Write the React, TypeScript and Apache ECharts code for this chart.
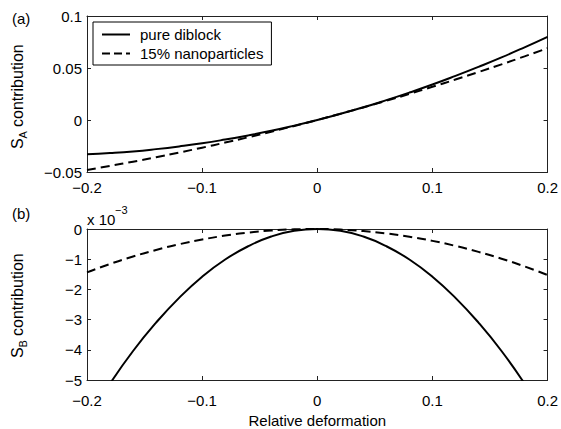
import React, { useEffect, useRef } from "react";
import * as echarts from "echarts";

const xs = [-0.2, -0.18, -0.16, -0.14, -0.12, -0.1, -0.08, -0.06, -0.04, -0.02, 0, 0.02, 0.04, 0.06, 0.08, 0.1, 0.12, 0.14, 0.16, 0.18, 0.2];

const saPure = [-0.033, -0.0318, -0.0302, -0.028, -0.0254, -0.0224, -0.0188, -0.0148, -0.0104, -0.0054, 0, 0.0059, 0.0122, 0.0191, 0.0264, 0.0341, 0.0424, 0.0511, 0.0602, 0.0699, 0.08];
const saNano = [-0.048, -0.0441, -0.0401, -0.0358, -0.0313, -0.0266, -0.0217, -0.0166, -0.0113, -0.0057, 0, 0.006, 0.0121, 0.0185, 0.0251, 0.0319, 0.0389, 0.0461, 0.0535, 0.0612, 0.069];

// in units of 1e-3
const sbPure = [-6.32, -5.12, -4.04, -3.1, -2.28, -1.58, -1.01, -0.57, -0.25, -0.06, 0, -0.06, -0.25, -0.57, -1.01, -1.58, -2.28, -3.1, -4.04, -5.12, -6.32];
const sbNano = [-1.435, -1.158, -0.911, -0.694, -0.506, -0.348, -0.219, -0.12, -0.05, -0.01, 0, -0.019, -0.068, -0.147, -0.255, -0.393, -0.56, -0.757, -0.983, -1.239, -1.525];

const seriesNames = ["pure diblock", "15% nanoparticles"];
const xTicks = { min: -0.2, max: 0.2, interval: 0.1 };
const yTopTicks = { min: -0.05, max: 0.1, interval: 0.05 };
const yBotTicks = { min: -5, max: 0, interval: 1 };

const FONT = "'Liberation Sans', Arial, Helvetica, sans-serif";
const AX = "#222";
const FS = 15;

const fmt = (v: number) => {
  if (Math.abs(v) < 1e-12) return "0";
  const s = String(Math.round(v * 1000) / 1000);
  return s.replace("-", "\u2212");
};

const zip = (ys: number[]) => xs.map((x, i) => [x, ys[i]]);

const SOLID_ICON = "path://M0,0h28v2h-28z";
const DASH_ICON = "path://M0,0h8v2h-8z M12,0h8v2h-8z M24,0h4v2h-4z";

export default function App() {
  const ref = useRef<HTMLDivElement>(null);
  useEffect(() => {
    if (!ref.current) return;
    const chart = echarts.init(ref.current, undefined, { renderer: "svg" });

    const mkX = (gridIndex: number, position: "bottom" | "top", labels: boolean, margin: number, name?: string) => ({
      type: "value" as const,
      gridIndex,
      position,
      ...xTicks,
      name: name || "",
      nameLocation: "middle" as const,
      nameGap: 33,
      nameTextStyle: { fontFamily: FONT, fontSize: FS, color: "#000" },
      axisLine: { show: true, onZero: false, lineStyle: { color: AX, width: 1 } },
      axisTick: { show: true, inside: true, length: 4, lineStyle: { color: AX } },
      axisLabel: {
        show: labels,
        margin,
        fontFamily: FONT,
        fontSize: FS,
        color: "#000",
        formatter: fmt,
      },
      splitLine: { show: false },
    });
    const mkY = (gridIndex: number, position: "left" | "right", labels: boolean, t: any) => ({
      type: "value" as const,
      gridIndex,
      position,
      ...t,
      axisLine: { show: true, onZero: false, lineStyle: { color: AX, width: 1 } },
      axisTick: { show: true, inside: true, length: 4, lineStyle: { color: AX } },
      axisLabel: {
        show: labels,
        margin: 5,
        fontFamily: FONT,
        fontSize: FS,
        color: "#000",
        formatter: fmt,
      },
      splitLine: { show: false },
    });

    const solid = { color: "#000", width: 2, type: "solid" as const };
    const dashed = { color: "#000", width: 2, type: [9, 5] as any };

    const yTitle = (x: number, y: number, sub: string) => ({
      type: "group",
      x,
      y,
      rotation: Math.PI / 2,
      children: [
        { type: "text", x: 0, y: 0, style: { text: "S", fontFamily: FONT, fontSize: 16, fill: "#000", textVerticalAlign: "middle" } },
        { type: "text", x: 10.5, y: 5.5, style: { text: sub, fontFamily: FONT, fontSize: 11, fill: "#000", textVerticalAlign: "middle" } },
        { type: "text", x: 22, y: 0, style: { text: "contribution", fontFamily: FONT, fontSize: 16, fill: "#000", textVerticalAlign: "middle" } },
      ],
    });

    chart.setOption({
      animation: false,
      backgroundColor: "#fff",
      textStyle: { fontFamily: FONT },
      grid: [
        { left: 87, right: 13, top: 16, height: 156 },
        { left: 87, right: 13, top: 229, height: 153 },
      ],
      xAxis: [
        mkX(0, "bottom", true, 8),
        mkX(0, "top", false, 8),
        mkX(1, "bottom", true, 13, "Relative deformation"),
        mkX(1, "top", false, 8),
      ],
      yAxis: [
        mkY(0, "left", true, yTopTicks),
        mkY(0, "right", false, yTopTicks),
        mkY(1, "left", true, yBotTicks),
        mkY(1, "right", false, yBotTicks),
      ],
      legend: {
        show: true,
        data: [
          { name: seriesNames[0], icon: SOLID_ICON },
          { name: seriesNames[1], icon: DASH_ICON },
        ],
        orient: "vertical",
        left: 93,
        top: 22,
        itemWidth: 28,
        itemHeight: 2,
        itemGap: 4,
        padding: [5, 8, 4, 9],
        borderColor: "#000",
        borderWidth: 1,
        backgroundColor: "#fff",
        textStyle: { fontFamily: FONT, fontSize: FS, color: "#000", padding: [0, 0, 0, 5] },
      },
      series: [
        { name: seriesNames[0], type: "line", xAxisIndex: 0, yAxisIndex: 0, data: zip(saPure), symbol: "none", smooth: true, lineStyle: solid, itemStyle: { color: "#000" }, z: 3 },
        { name: seriesNames[1], type: "line", xAxisIndex: 0, yAxisIndex: 0, data: zip(saNano), symbol: "none", smooth: true, lineStyle: dashed, itemStyle: { color: "#000" }, z: 3 },
        { name: seriesNames[0], type: "line", xAxisIndex: 2, yAxisIndex: 2, data: zip(sbPure), symbol: "none", smooth: true, clip: true, lineStyle: solid, itemStyle: { color: "#000" }, z: 3 },
        { name: seriesNames[1], type: "line", xAxisIndex: 2, yAxisIndex: 2, data: zip(sbNano), symbol: "none", smooth: true, clip: true, lineStyle: dashed, itemStyle: { color: "#000" }, z: 3 },
      ],
      graphic: [
        { type: "text", x: 12, y: 18, style: { text: "(a)", fontFamily: FONT, fontSize: FS, fill: "#000", textVerticalAlign: "middle" } },
        { type: "text", x: 12, y: 213, style: { text: "(b)", fontFamily: FONT, fontSize: FS, fill: "#000", textVerticalAlign: "middle" } },
        { type: "text", x: 87, y: 219, style: { text: "x 10", fontFamily: FONT, fontSize: FS, fill: "#000", textVerticalAlign: "middle" } },
        { type: "text", x: 115, y: 210, style: { text: "\u22123", fontFamily: FONT, fontSize: 11, fill: "#000", textVerticalAlign: "middle" } },
        yTitle(17, 149, "A"),
        yTitle(17, 358, "B"),
      ],
    });
    return () => chart.dispose();
  }, []);
  return <div ref={ref} style={{ position: "fixed", left: 0, top: 0, width: 561, height: 429 }} />;
}
